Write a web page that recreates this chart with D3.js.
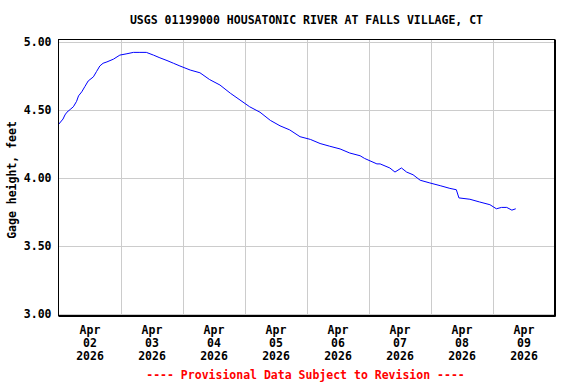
<!DOCTYPE html>
<html>
<head>
<meta charset="utf-8">
<script src="https://cdn.jsdelivr.net/npm/d3@7"></script>
<style>
  body { margin: 0; background: #fff; }
  text { font-family: "DejaVu Sans Mono", "Liberation Mono", monospace; font-weight: bold; font-size: 11.5px; }
</style>
</head>
<body>
<script>
// gage height readings
const times = [
  "2026-04-02 00:00", "2026-04-02 01:45", "2026-04-02 02:30", "2026-04-02 03:15",
  "2026-04-02 04:30", "2026-04-02 05:45", "2026-04-02 07:00", "2026-04-02 07:45",
  "2026-04-02 09:00", "2026-04-02 10:15", "2026-04-02 11:30", "2026-04-02 13:30",
  "2026-04-02 14:45", "2026-04-02 16:00", "2026-04-02 17:15", "2026-04-02 18:45",
  "2026-04-02 21:15", "2026-04-02 23:45", "2026-04-03 02:30", "2026-04-03 05:00",
  "2026-04-03 07:30", "2026-04-03 10:00", "2026-04-03 12:45", "2026-04-03 15:15",
  "2026-04-03 18:00", "2026-04-03 20:30", "2026-04-03 23:00", "2026-04-04 03:00",
  "2026-04-04 06:45", "2026-04-04 10:30", "2026-04-04 14:30", "2026-04-04 18:30",
  "2026-04-04 22:15", "2026-04-05 02:00", "2026-04-05 06:00", "2026-04-05 10:00",
  "2026-04-05 13:45", "2026-04-05 17:30", "2026-04-05 21:30", "2026-04-06 01:30",
  "2026-04-06 05:15", "2026-04-06 09:00", "2026-04-06 13:00", "2026-04-06 16:45",
  "2026-04-06 20:45", "2026-04-06 22:30", "2026-04-07 03:15", "2026-04-07 04:30",
  "2026-04-07 08:15", "2026-04-07 10:15", "2026-04-07 12:45", "2026-04-07 14:45",
  "2026-04-07 17:15", "2026-04-07 20:00", "2026-04-07 23:45", "2026-04-08 03:45",
  "2026-04-08 07:30", "2026-04-08 10:00", "2026-04-08 11:00", "2026-04-08 15:15",
  "2026-04-08 19:00", "2026-04-08 23:00", "2026-04-09 01:30", "2026-04-09 03:30",
  "2026-04-09 05:30", "2026-04-09 07:30", "2026-04-09 09:00"
];
const heights = [
  4.39, 4.43, 4.46, 4.48,
  4.50, 4.52, 4.56, 4.60,
  4.63, 4.67, 4.71, 4.74,
  4.78, 4.82, 4.84, 4.85,
  4.87, 4.90, 4.91, 4.92,
  4.92, 4.92, 4.90, 4.88,
  4.86, 4.84, 4.82, 4.79,
  4.77, 4.72, 4.68, 4.62,
  4.57, 4.52, 4.48, 4.42,
  4.38, 4.35, 4.30, 4.28,
  4.25, 4.23, 4.21, 4.18,
  4.16, 4.14, 4.10, 4.10,
  4.07, 4.04, 4.07, 4.04,
  4.02, 3.98, 3.96, 3.94,
  3.92, 3.91, 3.85, 3.84,
  3.82, 3.80, 3.77, 3.78,
  3.78, 3.76, 3.77
];

const dayLabels = ["2026-04-02", "2026-04-03", "2026-04-04", "2026-04-05",
                   "2026-04-06", "2026-04-07", "2026-04-08", "2026-04-09"];
const yTicks = [3.0, 3.5, 4.0, 4.5, 5.0];

const title = "USGS 01199000 HOUSATONIC RIVER AT FALLS VILLAGE, CT";
const yTitle = "Gage height, feet";
const footer = "---- Provisional Data Subject to Revision ----";

const W = 576, H = 384;
const box = { left: 58.5, right: 554.5, top: 39.5, bottom: 315.5 };

const parseTime = d3.timeParse("%Y-%m-%d %H:%M");
const parseDay = d3.timeParse("%Y-%m-%d");
const data = times.map((t, i) => ({ t: parseTime(t), v: heights[i] }));
const days = dayLabels.map(parseDay);

const x = d3.scaleTime()
    .domain([days[0], d3.timeDay.offset(days[days.length - 1], 1)])
    .range([box.left, box.right]);

const y = d3.scaleLinear()
    .domain([3, 5])
    .range([313.5, 41.5]);

const svg = d3.select("body").append("svg")
    .attr("width", W)
    .attr("height", H);

// grid
const gridDays = days.slice(1);
svg.append("g")
    .selectAll("line").data(gridDays).enter().append("line")
    .attr("x1", d => Math.round(x(d)) + 0.5)
    .attr("x2", d => Math.round(x(d)) + 0.5)
    .attr("y1", box.top)
    .attr("y2", box.bottom)
    .attr("stroke", "#cccccc");

svg.append("g")
    .selectAll("line").data(yTicks).enter().append("line")
    .attr("x1", box.left)
    .attr("x2", box.right)
    .attr("y1", d => Math.round(y(d)) + 0.5)
    .attr("y2", d => Math.round(y(d)) + 0.5)
    .attr("stroke", "#cccccc");

// data line
const line = d3.line()
    .x(d => x(d.t))
    .y(d => y(d.v));

svg.append("path")
    .datum(data)
    .attr("d", line)
    .attr("fill", "none")
    .attr("stroke", "#0000ff")
    .attr("stroke-width", 1);

// frame
svg.append("rect")
    .attr("x", box.left)
    .attr("y", box.top)
    .attr("width", box.right - box.left)
    .attr("height", box.bottom - box.top)
    .attr("fill", "none")
    .attr("stroke", "#000");
svg.append("path")
    .attr("d", `M${box.left},${box.bottom + 1}H${box.right + 1}V${box.top}`)
    .attr("fill", "none")
    .attr("stroke", "#000");

// y axis labels
const yAxis = svg.append("g")
    .attr("transform", `translate(${box.left - 2},0)`)
    .call(d3.axisLeft(y).tickValues(yTicks).tickSize(0).tickPadding(5).tickFormat(d3.format(".2f")));
yAxis.select(".domain").remove();
yAxis.selectAll("text")
    .attr("fill", "#000")
    .style("font-size", null)
    .style("font-family", null)
    .attr("dy", "0.32em");

// x axis labels, centred on each day at noon
const noons = days.map(d => d3.timeHour.offset(d, 12));
const xAxis = svg.append("g")
    .attr("transform", `translate(0,${box.bottom})`)
    .call(d3.axisBottom(x).tickValues(noons).tickSize(0).tickFormat(""));
xAxis.select(".domain").remove();
xAxis.selectAll(".tick text")
    .attr("fill", "#000")
    .attr("y", 0)
    .attr("dy", null)
    .each(function (d) {
      const t = d3.select(this);
      [d3.timeFormat("%b")(d), d3.timeFormat("%d")(d), d3.timeFormat("%Y")(d)].forEach((s, i) => {
        t.append("tspan").attr("x", 0).attr("y", 18 + i * 13).text(s);
      });
    });

// titles
svg.append("text")
    .attr("x", (box.left + box.right) / 2)
    .attr("y", 24)
    .attr("text-anchor", "middle")
    .text(title);

svg.append("text")
    .attr("transform", `translate(16,180) rotate(-90)`)
    .attr("text-anchor", "middle")
    .text(yTitle);

svg.append("text")
    .attr("x", (box.left + box.right) / 2 - 1)
    .attr("y", 379)
    .attr("text-anchor", "middle")
    .attr("fill", "#ff0000")
    .text(footer);
</script>
</body>
</html>
